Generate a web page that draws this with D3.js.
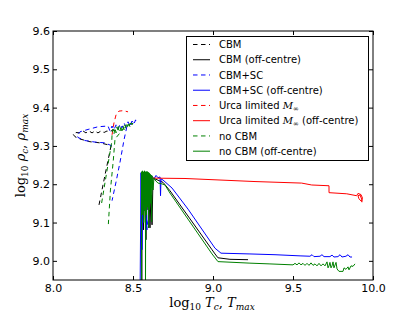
<!DOCTYPE html>
<html>
<head>
<meta charset="utf-8">
<script src="https://cdn.jsdelivr.net/npm/d3@7"></script>
<style>
  html, body { margin: 0; padding: 0; background: #fff; }
  svg { display: block; }
  .tick text { font-family: "DejaVu Sans", sans-serif; font-size: 11px; fill: #000; }
  .tick line { stroke: #000; }
  .leg { font-family: "DejaVu Sans", sans-serif; font-size: 10px; fill: #000; }
  .math { font-family: "DejaVu Serif", "Liberation Serif", serif; }
</style>
</head>
<body>
<svg id="chart" width="415" height="312"></svg>
<script>
// axis ticks
const xTicks = [8.0, 8.5, 9.0, 9.5, 10.0];
const yTicks = [9.0, 9.1, 9.2, 9.3, 9.4, 9.5, 9.6];

// series, [log Tc, log rho]
const cbmCentre = [[8.2875,9.146],[8.325,9.224],[8.3625,9.300],[8.344,9.303],[8.294,9.308],[8.231,9.311],[8.169,9.318],[8.1375,9.324],[8.125,9.331],[8.144,9.335],[8.169,9.334],[8.1875,9.339],[8.206,9.334],[8.225,9.339],[8.244,9.334],[8.2625,9.339],[8.281,9.334],[8.300,9.339],[8.319,9.335],[8.3375,9.339],[8.356,9.337],[8.375,9.342],[8.394,9.339]];
const cbmOff = [[8.556,8.90],[8.556,9.230],[8.566,9.081],[8.572,9.224],[8.581,9.055],[8.5875,9.222],[8.594,9.133],[8.600,9.211],[8.606,9.086],[8.6125,9.172],[8.619,9.094],[8.625,9.216],[8.6875,9.205],[8.731,9.183],[8.994,9.029],[9.0125,9.018],[9.031,9.008],[9.106,9.004],[9.219,9.003]];
const scCentre = [[8.369,9.300],[8.325,9.308],[8.2625,9.310],[8.200,9.314],[8.156,9.322],[8.150,9.329],[8.169,9.337],[8.219,9.343],[8.281,9.350],[8.344,9.352],
  [8.356,9.339],[8.369,9.352],[8.381,9.342],[8.394,9.355],[8.406,9.344],[8.419,9.357],[8.431,9.347],[8.444,9.360],[8.456,9.350],[8.469,9.363],[8.481,9.352],[8.494,9.365],[8.506,9.357],[8.516,9.368],[8.519,9.363],
  [8.4625,9.352],[8.444,9.316],[8.419,9.258],[8.394,9.206],[8.369,9.157]];
const scOff = [[8.544,8.90],[8.550,9.230],[8.556,9.029],[8.5625,9.227],[8.581,9.128],[8.5875,9.081],[8.581,9.112],[8.594,9.094],[8.600,9.222],[8.617,9.222],[8.631,9.214],[8.644,9.223],[8.656,9.217],[8.669,9.219],[8.672,9.170],[8.675,9.214],[8.6875,9.211],[8.744,9.190],[8.844,9.135],[9.0125,9.033],[9.050,9.020],[9.231,9.018],[9.3875,9.016],[9.544,9.013],[9.606,9.012],[9.619,9.016],[9.631,9.011],[9.669,9.012],[9.681,9.016],[9.694,9.011],[9.731,9.011],[9.744,9.015],[9.756,9.010],[9.781,9.011],[9.794,9.016],[9.806,9.010],[9.831,9.012],[9.844,9.016],[9.856,9.010],[9.869,9.010]];
const urcaCentre = [[8.369,9.329],[8.381,9.360],[8.394,9.381],[8.4125,9.391],[8.440,9.392],[8.469,9.389]];
const urcaOff = [[8.581,9.222],[8.606,9.216],[8.825,9.215],[9.2625,9.207],[9.554,9.203],[9.617,9.198],[9.725,9.196],[9.725,9.178],[9.836,9.175],[9.898,9.170],[9.906,9.176],[9.925,9.173],[9.934,9.164],[9.928,9.155],[9.9125,9.162],[9.906,9.170],[9.919,9.172],[9.931,9.159],[9.931,9.153]];
const noCbmCentre = [[8.304,9.151],[8.336,9.232],[8.367,9.310],[8.369,9.329],
  [8.375,9.344],[8.381,9.331],[8.3875,9.347],[8.394,9.334],[8.400,9.350],[8.406,9.337],[8.4125,9.351],[8.419,9.339],[8.425,9.352],[8.431,9.340],[8.4375,9.353],[8.444,9.342],[8.450,9.355],[8.456,9.344],[8.4625,9.356],[8.469,9.347],[8.475,9.357],[8.481,9.350],[8.4875,9.360],[8.494,9.355],[8.500,9.363],
  [8.444,9.347],[8.3875,9.318],[8.377,9.263],[8.359,9.185],[8.346,9.096]];
const noCbmOff = [[8.553,8.898],[8.553,9.232],
  [8.5545,9.150],[8.556,9.233],[8.5576,9.120],[8.559,9.235],[8.5607,9.160],[8.5625,9.232],[8.564,9.146],[8.566,9.232],[8.567,9.100],[8.569,9.233],[8.5701,9.170],[8.572,9.235],[8.5732,9.130],[8.575,9.233],[8.5763,9.159],[8.578,9.232],[8.578,8.898],[8.5795,9.232],[8.581,9.150],[8.5826,9.232],[8.584,9.120],[8.5857,9.233],[8.5875,9.165],[8.5888,9.233],[8.591,9.140],[8.592,9.231],[8.594,9.170],[8.5951,9.231],[8.597,9.086],[8.5982,9.230],[8.600,9.160],[8.6013,9.229],[8.603,9.133],[8.6045,9.227],[8.606,9.175],[8.6075,9.226],[8.609,9.150],[8.6107,9.224],[8.6125,9.190],[8.614,9.223],[8.616,9.102],[8.619,9.222],
  [8.625,9.185],[8.631,9.216],[8.6375,9.211],[8.656,9.203],[8.681,9.201],[8.700,9.198],[8.731,9.177],[8.994,9.018],[9.031,8.998],[9.231,8.994],[9.356,8.992],[9.500,8.9895],
  [9.5125,8.9934],[9.525,8.9895],[9.5375,8.9947],[9.550,8.9895],[9.5625,8.9934],[9.575,8.9882],[9.5875,8.9934],[9.600,8.9882],[9.6125,8.9947],[9.625,8.9882],[9.6375,8.9921],[9.650,8.9869],[9.6625,8.9934],[9.675,8.9869],[9.6875,8.9921],[9.700,8.9869],[9.7125,8.9973],[9.719,8.9817],[9.725,8.9869],[9.731,8.996],[9.7375,8.9817],[9.744,8.9869],[9.750,8.9973],[9.756,8.9817],[9.769,8.996],[9.775,8.979],[9.7875,8.9725],[9.8125,8.9725],[9.819,8.9817],[9.831,8.9778],[9.844,8.9843],[9.850,8.9765],[9.8625,8.9869],[9.875,8.9856],[9.8875,8.9921]];

const seriesNames = ["CBM", "CBM (off-centre)", "CBM+SC", "CBM+SC (off-centre)",
  "Urca limited", "Urca limited (off-centre)", "no CBM", "no CBM (off-centre)"];
const seriesData = [cbmCentre, cbmOff, scCentre, scOff, urcaCentre, urcaOff, noCbmCentre, noCbmOff];
const seriesColors = ["#000000", "#000000", "#0000ff", "#0000ff", "#ff0000", "#ff0000", "#008000", "#008000"];
const seriesDashed = [true, false, true, false, true, false, true, false];

const margin = { left: 53, right: 42, top: 31, bottom: 32 };
const W = 415, H = 312;
const svg = d3.select("#chart");

const x = d3.scaleLinear().domain([8, 10]).range([margin.left, W - margin.right]);
const y = d3.scaleLinear().domain([8.95, 9.6]).range([H - margin.bottom, margin.top]);

svg.append("defs").append("clipPath").attr("id", "plotclip")
  .append("rect").attr("x", x(8)).attr("y", y(9.6))
  .attr("width", x(10) - x(8)).attr("height", y(8.95) - y(9.6));

// lines
const line = d3.line().x(d => x(d[0])).y(d => y(d[1]));
const gLines = svg.append("g").attr("clip-path", "url(#plotclip)");
seriesData.forEach((s, i) => {
  gLines.append("path")
    .attr("d", line(s))
    .attr("fill", "none")
    .attr("stroke", seriesColors[i])
    .attr("stroke-width", 1)
    .attr("stroke-linejoin", "round")
    .attr("stroke-dasharray", seriesDashed[i] ? "4.5,3.5" : null);
});

// axes, ticks inward on all sides
const fmt = d3.format(".1f");
svg.append("g").attr("transform", `translate(0,${y(8.95)})`)
  .call(d3.axisBottom(x).tickValues(xTicks).tickFormat(fmt).tickSizeInner(-4).tickSizeOuter(0).tickPadding(4));
svg.append("g").attr("transform", `translate(0,${y(9.6)})`)
  .call(d3.axisTop(x).tickValues(xTicks).tickFormat("").tickSizeInner(-4).tickSizeOuter(0));
svg.append("g").attr("transform", `translate(${x(8)},0)`)
  .call(d3.axisLeft(y).tickValues(yTicks).tickFormat(fmt).tickSizeInner(-4).tickSizeOuter(0).tickPadding(3));
svg.append("g").attr("transform", `translate(${x(10)},0)`)
  .call(d3.axisRight(y).tickValues(yTicks).tickFormat("").tickSizeInner(-4).tickSizeOuter(0));
svg.selectAll(".domain").remove();

svg.append("rect")
  .attr("x", x(8)).attr("y", y(9.6))
  .attr("width", x(10) - x(8)).attr("height", y(8.95) - y(9.6))
  .attr("fill", "none").attr("stroke", "#000").attr("stroke-width", 1);

// legend
const leg = svg.append("g").attr("transform", "translate(186,36)");
leg.append("rect").attr("x", 0.5).attr("y", 0.5).attr("width", 182).attr("height", 124)
  .attr("fill", "#fff").attr("stroke", "#000").attr("stroke-width", 1);
seriesNames.forEach((name, i) => {
  const yy = 8.5 + i * 15.24;
  leg.append("line").attr("x1", 7).attr("x2", 24).attr("y1", yy).attr("y2", yy)
    .attr("stroke", seriesColors[i]).attr("stroke-width", 1)
    .attr("stroke-dasharray", seriesDashed[i] ? "4.5,3.5" : null);
  const t = leg.append("text").attr("class", "leg").attr("x", 33).attr("y", yy + 3.6);
  if (name.startsWith("Urca")) {
    t.append("tspan").text("Urca limited ");
    t.append("tspan").attr("class", "math").attr("font-style", "italic").text("M");
    t.append("tspan").attr("class", "math").attr("font-size", "7px").attr("dy", 2).text("∞");
    if (name.includes("off")) t.append("tspan").attr("dy", -2).text(" (off-centre)");
  } else {
    t.text(name);
  }
});

// axis labels
const xl = svg.append("text").attr("class", "math").attr("font-size", "13px")
  .attr("text-anchor", "middle").attr("x", 212).attr("y", 307);
xl.append("tspan").text("log");
xl.append("tspan").attr("font-size", "9px").attr("dy", 3).text("10");
xl.append("tspan").attr("dy", -3).attr("font-style", "italic").text(" T");
xl.append("tspan").attr("font-size", "9px").attr("dy", 3).attr("font-style", "italic").text("c");
xl.append("tspan").attr("dy", -3).text(", ");
xl.append("tspan").attr("font-style", "italic").text("T");
xl.append("tspan").attr("font-size", "9px").attr("dy", 3).attr("font-style", "italic").text("max");

const yl = svg.append("text").attr("class", "math").attr("font-size", "13px")
  .attr("text-anchor", "middle").attr("transform", `translate(25,${(y(9.6) + y(8.95)) / 2}) rotate(-90)`);
yl.append("tspan").text("log");
yl.append("tspan").attr("font-size", "9px").attr("dy", 3).text("10");
yl.append("tspan").attr("dy", -3).attr("font-style", "italic").text(" ρ");
yl.append("tspan").attr("font-size", "9px").attr("dy", 3).attr("font-style", "italic").text("c");
yl.append("tspan").attr("dy", -3).text(", ");
yl.append("tspan").attr("font-style", "italic").text("ρ");
yl.append("tspan").attr("font-size", "9px").attr("dy", 3).attr("font-style", "italic").text("max");
</script>
</body>
</html>
